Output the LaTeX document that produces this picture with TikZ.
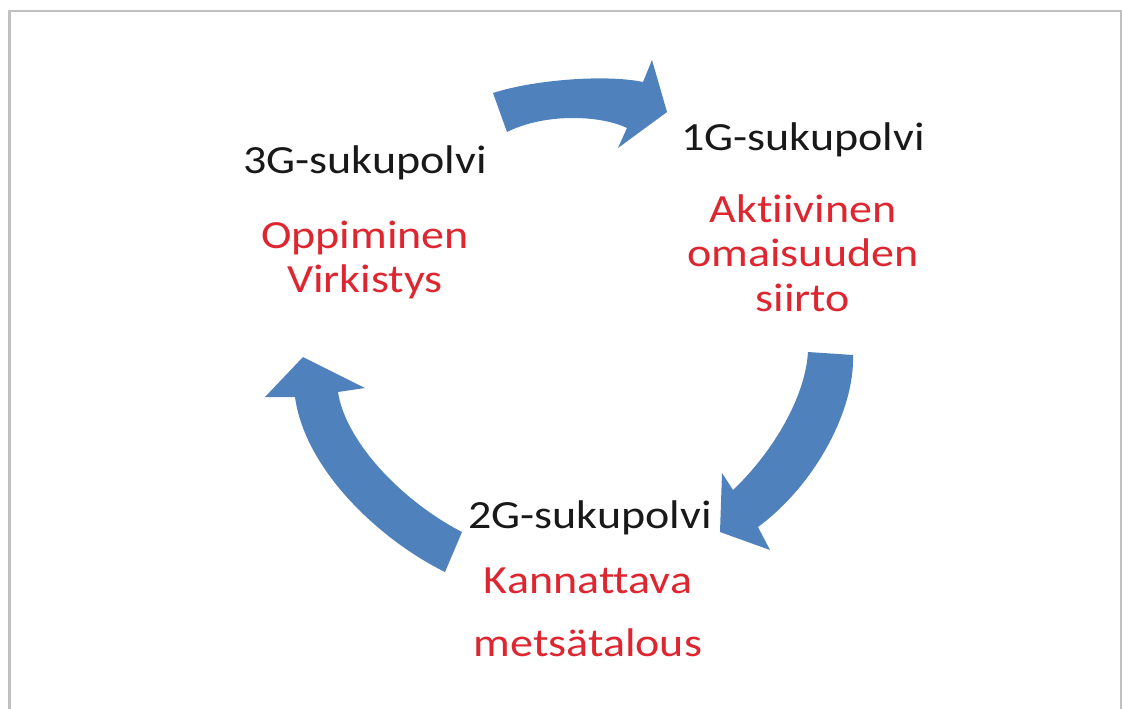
\documentclass[tikz,border=0pt]{standalone}
\usepackage{fontspec}
\setmainfont{Carlito}[FakeStretch=1.15, Ligatures=NoCommon]
\usepackage{tikz}
\definecolor{arrowblue}{RGB}{79,129,189}
\definecolor{goalred}{RGB}{222,38,48}
\definecolor{slidegray}{RGB}{192,192,192}

\begin{document}
\begin{tikzpicture}
	[
		x=1pt, y=-1pt,
		every node/.style = {inner sep=0pt, anchor=base, font=\fontsize{40}{48}\selectfont},
		gen/.style = {text=black!90},
		goal/.style = {text=goalred},
		turn/.style = {fill=arrowblue, draw=none},
	]

  \useasboundingbox (0,0) rectangle (1122,709);
  \draw[slidegray, line width=2.5pt] (9.5,709) -- (9.5,11) -- (1121,11) -- (1121,709);

  % generations
  \node[gen] (G1) at (803,150) {1G-sukupolvi};
  \node[gen] (G2) at (590,528) {2G-sukupolvi};
  \node[gen] (G3) at (365,173) {3G-sukupolvi};

  % goals
  \node[goal] (A1) at (803,222) {Aktiivinen};
  \node[goal] (A2) at (803,266) {omaisuuden};
  \node[goal] (A3) at (803,311) {siirto};
  \node[goal] (K1) at (588,593) {Kannattava};
  \node[goal] (K2) at (588,656) {metsätalous};
  \node[goal] (O1) at (365,248) {Oppiminen};
  \node[goal] (O2) at (365,292) {Virkistys};

  % 3G -> 1G
  \fill[turn] (493,93) .. controls (533,80) and (605,74) .. (643,82)
    -- (652,60) -- (667,112) -- (618,148) -- (627,128)
    .. controls (600,115) and (545,113) .. (507,132) -- cycle;
  % 1G -> 2G
  \fill[turn] (808,352) -- (853,355)
    .. controls (855,410) and (815,485) .. (758,527)
    -- (770,550) -- (720,532) -- (722,473) -- (733,490)
    .. controls (770,455) and (805,400) .. (808,352) -- cycle;
  % 2G -> 3G
  \fill[turn] (462,532) -- (445,572)
    .. controls (380,540) and (305,470) .. (295,397)
    -- (265,397) -- (303,357) -- (365,388) -- (338,392)
    .. controls (345,440) and (400,500) .. (462,532) -- cycle;

\end{tikzpicture}
\end{document}
